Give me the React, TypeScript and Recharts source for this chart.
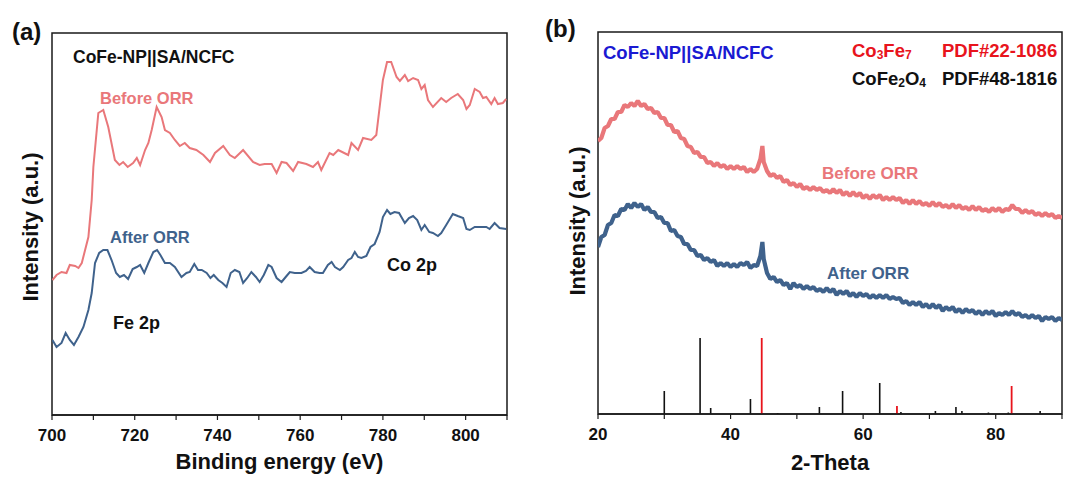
import { LineChart, Line, XAxis, YAxis, ReferenceArea, ReferenceLine } from "recharts";

// ---- panel (a): XPS survey, Fe 2p / Co 2p region ----
const beforeEnergy = [
  700.1, 701.1, 702.3, 703.5, 704.3, 705.6, 706.4, 707.2, 708.0, 708.8, 709.6, 710.0, 711.2, 712.4, 713.6,
  715.2, 716.3, 717.2, 718.3, 719.6, 720.5, 721.3, 722.5, 723.3, 724.1, 725.3, 726.5, 727.3, 728.5, 729.7,
  730.9, 732.1, 733.3, 734.9, 736.6, 738.2, 739.4, 741.4, 743.0, 744.2, 746.2, 748.6, 750.2, 751.4, 753.1,
  754.3, 755.5, 756.7, 758.3, 759.5, 761.5, 763.1, 764.3, 765.1, 767.1, 768.0, 769.2, 771.6, 772.4, 774.0,
  775.2, 777.2, 778.4, 780.0, 781.0, 782.0, 783.3, 784.1, 785.3, 786.1, 787.3, 788.5, 789.3, 790.1, 790.9,
  792.1, 794.1, 795.3, 796.5, 798.1, 799.4, 800.2, 801.0, 802.2, 803.4, 804.2, 805.0, 806.2, 807.0, 807.8,
  809.0, 809.8,
];
const beforeIntensity = [
  135, 140, 143, 142, 150, 149, 147, 152, 165, 178, 215, 248, 302, 305, 288,
  255, 250, 253, 248, 252, 257, 250, 265, 272, 285, 308, 298, 285, 282, 275,
  269, 272, 267, 265, 260, 253, 262, 269, 260, 257, 265, 253, 250, 251, 251,
  242, 253, 252, 244, 253, 251, 248, 253, 245, 262, 260, 265, 260, 272, 265,
  277, 275, 280, 335, 353, 353, 338, 334, 340, 334, 337, 335, 326, 330, 315,
  308, 317, 313, 317, 321, 315, 306, 310, 326, 323, 317, 318, 311, 317, 311,
  312, 316,
];
const afterEnergy = [
  700.1, 701.1, 702.3, 703.3, 704.3, 705.3, 706.4, 707.6, 708.8, 709.6, 710.4, 711.4, 712.4, 713.4, 714.4,
  715.5, 716.4, 717.4, 718.4, 719.5, 720.5, 721.3, 722.3, 723.3, 724.5, 725.4, 726.2, 727.3, 728.5, 729.7,
  731.3, 732.5, 733.3, 734.4, 735.3, 736.2, 737.4, 738.3, 739.1, 740.2, 741.2, 742.2, 743.2, 744.2, 745.3,
  746.2, 747.2, 748.2, 749.3, 750.2, 751.2, 752.3, 753.1, 754.3, 755.5, 756.7, 757.5, 758.7, 760.3, 761.4,
  762.3, 763.5, 764.7, 765.5, 766.7, 767.6, 768.4, 769.6, 770.4, 771.6, 772.4, 773.2, 774.0, 774.8, 776.0,
  777.0, 778.0, 779.2, 780.0, 781.0, 781.8, 782.8, 783.9, 785.3, 786.3, 787.3, 788.3, 789.3, 790.1, 791.2,
  792.1, 793.3, 794.1, 795.3, 796.9, 798.1, 799.4, 800.2, 801.0, 802.2, 803.4, 805.0, 805.8, 807.0, 808.2,
  809.8,
];
const afterIntensity = [
  75, 68, 72, 82, 75, 70, 78, 88, 105, 122, 152, 162, 165, 165, 155,
  142, 138, 140, 136, 146, 148, 150, 142, 152, 163, 165, 160, 152, 152, 148,
  138, 142, 143, 151, 145, 145, 142, 137, 140, 135, 132, 128, 142, 145, 143,
  132, 137, 143, 138, 133, 140, 150, 148, 137, 133, 139, 143, 142, 142, 144,
  148, 143, 142, 142, 150, 153, 148, 145, 148, 155, 157, 163, 158, 157, 159,
  168, 171, 183, 198, 205, 201, 203, 202, 192, 197, 199, 195, 185, 190, 183,
  182, 179, 182, 190, 201, 199, 197, 186, 185, 188, 188, 188, 186, 192, 187,
  186,
];
const xpsTicks = [700, 710, 720, 730, 740, 750, 760, 770, 780, 790, 800, 810];

// ---- panel (b): XRD ----
const theta = [
  20, 20.5, 21, 21.5, 22, 22.5, 23, 23.5, 24, 24.5,
  25, 25.5, 26, 26.5, 27, 27.5, 28, 28.5, 29, 29.5,
  30, 30.5, 31, 31.5, 32, 32.5, 33, 33.5, 34, 34.5,
  35, 35.5, 36, 36.5, 37, 37.5, 38, 38.5, 39, 39.5,
  40, 40.5, 41, 41.5, 42, 42.5, 43, 43.5, 44, 44.5,
  44.8,
  45, 45.5, 46, 46.5, 47, 47.5, 48, 48.5, 49, 49.5,
  50, 50.5, 51, 51.5, 52, 52.5, 53, 53.5, 54, 54.5,
  55, 55.5, 56, 56.5, 57, 57.5, 58, 58.5, 59, 59.5,
  60, 60.5, 61, 61.5, 62, 62.5, 63, 63.5, 64, 64.5,
  65, 65.5, 66, 66.5, 67, 67.5, 68, 68.5, 69, 69.5,
  70, 70.5, 71, 71.5, 72, 72.5, 73, 73.5, 74, 74.5,
  75, 75.5, 76, 76.5, 77, 77.5, 78, 78.5, 79, 79.5,
  80, 80.5, 81, 81.5, 82, 82.5, 83, 83.5, 84, 84.5,
  85, 85.5, 86, 86.5, 87, 87.5, 88, 88.5, 89, 89.5,
  90,
];
const xrdBefore = [
  273, 276, 286, 288, 295, 295, 302, 302, 309, 307,
  311, 308, 313, 308, 310, 305, 306, 301, 302, 296,
  296, 289, 289, 282, 283, 276, 275, 268, 267, 261,
  262, 257, 257, 251, 252, 248, 251, 247, 249, 245,
  248, 245, 248, 245, 247, 242, 245, 242, 245, 255,
  268,
  252, 243, 238, 240, 236, 238, 232, 234, 229, 231,
  227, 230, 225, 227, 224, 227, 224, 226, 222, 224,
  221, 225, 221, 224, 219, 222, 218, 222, 218, 221,
  216, 219, 215, 219, 216, 219, 214, 217, 214, 217,
  214, 216, 211, 214, 210, 214, 210, 213, 209, 211,
  208, 212, 208, 211, 207, 209, 206, 210, 206, 209,
  205, 207, 204, 208, 204, 207, 203, 205, 202, 206,
  203, 206, 202, 205, 204, 209, 205, 205, 201, 204,
  201, 203, 199, 201, 198, 201, 198, 200, 196, 198,
  196,
];
const xrdAfter = [
  167, 177, 179, 189, 191, 199, 198, 205, 204, 210,
  206, 211, 207, 210, 204, 207, 202, 202, 196, 197,
  191, 191, 183, 184, 178, 177, 170, 170, 164, 164,
  158, 159, 154, 156, 152, 154, 148, 151, 148, 151,
  147, 150, 147, 151, 149, 152, 146, 149, 148, 158,
  172,
  155, 141, 135, 137, 132, 134, 129, 131, 125, 131,
  127, 129, 125, 128, 125, 127, 123, 125, 122, 126,
  122, 125, 119, 123, 120, 123, 118, 121, 117, 121,
  118, 120, 116, 119, 116, 119, 116, 119, 115, 117,
  115, 116, 111, 113, 109, 112, 109, 112, 107, 110,
  106, 110, 106, 109, 103, 107, 104, 107, 102, 105,
  101, 105, 102, 104, 100, 103, 99, 103, 100, 103,
  98, 101, 99, 102, 99, 103, 99, 101, 97, 99,
  96, 99, 96, 98, 93, 97, 95, 97, 93, 96,
  94,
];
const xrdTicks = [20, 30, 40, 50, 60, 70, 80, 90];

// reference patterns (stick positions / relative heights)
const cofe2o4Theta = [30.0, 35.4, 37.0, 43.0, 47.1, 53.4, 56.9, 62.5, 65.7, 70.9, 74.0, 74.9, 78.9, 81.9, 86.7];
const cofe2o4Height = [23, 76, 6, 15, 1, 7, 23, 31, 2, 3, 7, 3, 1.5, 1.5, 3];
const co3fe7Theta = [44.7, 65.1, 82.4];
const co3fe7Height = [76, 8, 28];

const RED = "#e9777a";
const BLUE = "#3f628c";
const AXIS = "#1a1a1a";
const FONT = "'Liberation Sans', Arial, sans-serif";

const xpsBefore = beforeEnergy.map((e, i) => ({ x: e, y: beforeIntensity[i] }));
const xpsAfter = afterEnergy.map((e, i) => ({ x: e, y: afterIntensity[i] }));
const xrdData = theta.map((t, i) => ({ t, before: xrdBefore[i], after: xrdAfter[i] }));

const tickStyle = { fill: "#111", fontSize: 17, fontWeight: 700, fontFamily: FONT };
const titleStyle = { fill: "#111", fontSize: 22, fontWeight: 700, fontFamily: FONT };

function Txt({ x, y, children, fill = "#111", size = 17 }: any) {
  return (
    <text x={x} y={y} fill={fill} fontSize={size} fontWeight={700} fontFamily={FONT} dominantBaseline="central">
      {children}
    </text>
  );
}

function YTitle({ x, y }: { x: number; y: number }) {
  return (
    <text transform={`translate(${x},${y}) rotate(-90)`} textAnchor="middle" dominantBaseline="central"
      fontSize={22} fontWeight={700} fontFamily={FONT} fill="#111">Intensity (a.u.)</text>
  );
}

export default function App() {
  return (
    <div style={{ position: "absolute", left: 0, top: 0, width: 1067, height: 478, background: "#fff" }}>
      <div style={{ position: "absolute", left: 0, top: 0 }}>
        <LineChart width={520} height={478} margin={{ top: 33, right: 13, left: 52, bottom: 0 }}>
          <XAxis
            type="number" dataKey="x" domain={[700, 810]} ticks={xpsTicks} allowDataOverflow
            tickFormatter={(v: number) => (v % 20 === 0 ? String(v) : "")}
            height={63} tickSize={5} tickMargin={9} tick={tickStyle}
            axisLine={{ stroke: AXIS, strokeWidth: 1.5 }} tickLine={{ stroke: AXIS, strokeWidth: 1.2 }}
            label={{ value: "Binding energy (eV)", position: "insideBottom", offset: 9, style: titleStyle }}
          />
          <YAxis type="number" domain={[0, 382]} width={0} tick={false} tickLine={false}
            axisLine={{ stroke: AXIS, strokeWidth: 1.5 }} allowDataOverflow />
          <ReferenceArea x1={700} x2={810} y1={0} y2={382} fill="none" stroke={AXIS} strokeWidth={1.5} />
          <Line data={xpsBefore} dataKey="y" stroke={RED} strokeWidth={2} dot={false} isAnimationActive={false} />
          <Line data={xpsAfter} dataKey="y" stroke={BLUE} strokeWidth={2} dot={false} isAnimationActive={false} />
        </LineChart>
      </div>

      <div style={{ position: "absolute", left: 540, top: 0 }}>
        <LineChart width={527} height={478} data={xrdData} margin={{ top: 32, right: 5, left: 58, bottom: 0 }}>
          <XAxis
            type="number" dataKey="t" domain={[20, 90]} ticks={xrdTicks} allowDataOverflow
            tickFormatter={(v: number) => (v % 20 === 0 ? String(v) : "")}
            height={64} tickSize={5} tickMargin={9} tick={tickStyle}
            axisLine={{ stroke: AXIS, strokeWidth: 1.5 }} tickLine={{ stroke: AXIS, strokeWidth: 1.2 }}
            label={{ value: "2-Theta", position: "insideBottom", offset: 8, style: titleStyle }}
          />
          <YAxis type="number" domain={[0, 382]} width={0} tick={false} tickLine={false}
            axisLine={{ stroke: AXIS, strokeWidth: 1.5 }} allowDataOverflow />
          <ReferenceArea x1={20} x2={90} y1={0} y2={382} fill="none" stroke={AXIS} strokeWidth={1.5} />
          {cofe2o4Theta.map((t, i) => (
            <ReferenceLine key={"k" + i} segment={[{ x: t, y: 0 }, { x: t, y: cofe2o4Height[i] }]}
              stroke="#111" strokeWidth={1.6} />
          ))}
          {co3fe7Theta.map((t, i) => (
            <ReferenceLine key={"r" + i} segment={[{ x: t, y: 0 }, { x: t, y: co3fe7Height[i] }]}
              stroke="#e8141c" strokeWidth={1.8} />
          ))}
          <Line dataKey="before" stroke={RED} strokeWidth={4.2} strokeLinejoin="bevel" dot={false} isAnimationActive={false} />
          <Line dataKey="after" stroke={BLUE} strokeWidth={4.2} strokeLinejoin="bevel" dot={false} isAnimationActive={false} />
        </LineChart>
      </div>

      <svg width={1067} height={478} style={{ position: "absolute", left: 0, top: 0, pointerEvents: "none" }}>
        <Txt x={12} y={31} size={24}>(a)</Txt>
        <Txt x={545} y={28} size={24}>(b)</Txt>

        <Txt x={73} y={57} size={17.5}>CoFe-NP||SA/NCFC</Txt>
        <Txt x={100} y={98} size={16.5} fill={RED}>Before ORR</Txt>
        <Txt x={110} y={237} size={16.5} fill={BLUE}>After ORR</Txt>
        <Txt x={113} y={323} size={18}>Fe 2p</Txt>
        <Txt x={387} y={265} size={18}>Co 2p</Txt>

        <Txt x={603} y={52} size={18.5} fill="#1a1ad2">CoFe-NP||SA/NCFC</Txt>
        <text x={852} y={50} fill="#e8141c" fontSize={18.5} fontWeight={700} fontFamily={FONT} dominantBaseline="central">
          Co<tspan fontSize={12} dy={5}>3</tspan><tspan dy={-5}>Fe</tspan><tspan fontSize={12} dy={5}>7</tspan>
        </text>
        <Txt x={942} y={50} size={18.5} fill="#e8141c">PDF#22-1086</Txt>
        <text x={852} y={78} fill="#111" fontSize={18.5} fontWeight={700} fontFamily={FONT} dominantBaseline="central">
          CoFe<tspan fontSize={12} dy={5}>2</tspan><tspan dy={-5}>O</tspan><tspan fontSize={12} dy={5}>4</tspan>
        </text>
        <Txt x={942} y={78} size={18.5}>PDF#48-1816</Txt>
        <Txt x={822} y={173} size={17} fill={RED}>Before ORR</Txt>
        <Txt x={827} y={273} size={17} fill={BLUE}>After ORR</Txt>

        <YTitle x={30} y={227} />
        <YTitle x={577} y={221} />
      </svg>
    </div>
  );
}
